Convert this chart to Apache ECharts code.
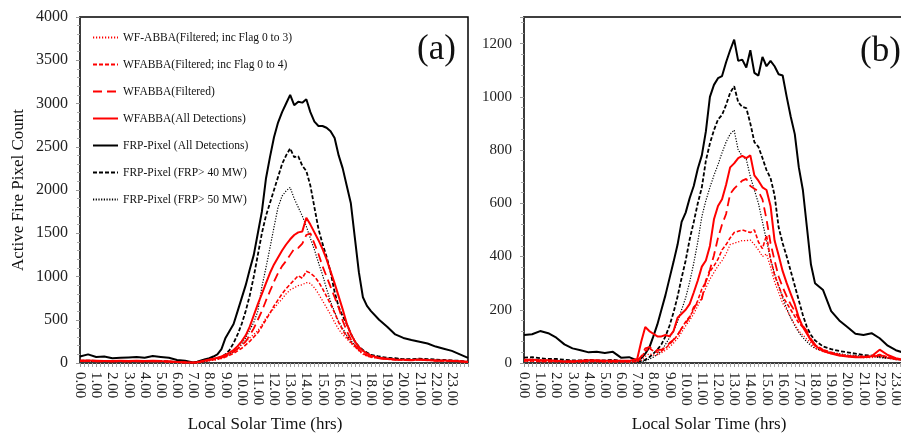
<!DOCTYPE html>
<html>
<head>
<meta charset="utf-8">
<script src="https://cdn.jsdelivr.net/npm/echarts@6/dist/echarts.min.js"></script>
<style>
  html, body { margin: 0; padding: 0; background: #fff; }
  #chart { width: 901px; height: 434px; }
</style>
</head>
<body>
<div id="chart"></div>
<script>
// local solar time (hrs): half-hourly at night, quarter-hourly through the day
var hours = [0, 0.5, 1, 1.5, 2, 2.5, 3, 3.5, 4, 4.5, 5, 5.5, 6, 6.5, 7,
    7.25, 7.5, 7.75, 8, 8.25, 8.5, 8.75, 9, 9.25, 9.5, 9.75, 10, 10.25, 10.5, 10.75, 11,
    11.25, 11.5, 11.75, 12, 12.25, 12.5, 12.75, 13, 13.25, 13.5, 13.75, 14, 14.25, 14.5, 14.75, 15,
    15.25, 15.5, 15.75, 16, 16.25, 16.5, 16.75, 17, 17.25, 17.5, 17.75, 18,
    18.5, 19, 19.5, 20, 20.5, 21, 21.5, 22, 22.5, 23, 23.5, 24];

var names = [
    'WF-ABBA(Filtered; inc Flag 0 to 3)',
    'WFABBA(Filtered; inc Flag 0 to 4)',
    'WFABBA(Filtered)',
    'WFABBA(All Detections)',
    'FRP-Pixel (All Detections)',
    'FRP-Pixel (FRP> 40 MW)',
    'FRP-Pixel (FRP> 50 MW)'
];

// panel (a)
var aWf03 = [28, 25, 22, 22, 20, 22, 20, 22, 20, 22, 20, 18, 10, 6, 4,
    8, 12, 18, 25, 32, 40, 52, 65, 100, 130, 165, 210, 245, 290, 330, 375,
    440, 520, 580, 630, 690, 740, 800, 845, 870, 895, 905, 930, 920, 870, 800, 720,
    640, 560, 470, 390, 330, 280, 230, 180, 140, 100, 80, 65,
    55, 45, 38, 35, 32, 38, 32, 28, 25, 22, 18, 12];
var aWf04 = [25, 22, 20, 20, 18, 20, 18, 20, 18, 20, 18, 15, 10, 6, 4,
    8, 14, 22, 30, 38, 45, 55, 70, 90, 110, 140, 170, 210, 250, 300, 350,
    420, 500, 575, 660, 730, 800, 860, 910, 960, 1010, 980, 1060, 1040, 1000, 940, 860,
    770, 680, 580, 470, 380, 300, 240, 195, 150, 110, 85, 70,
    55, 45, 38, 35, 32, 38, 32, 28, 25, 22, 18, 12];
var aWfFilt = [25, 22, 20, 20, 18, 20, 18, 20, 18, 20, 18, 15, 10, 6, 4,
    8, 15, 25, 35, 42, 50, 62, 80, 100, 130, 165, 200, 250, 320, 400, 500,
    600, 720, 830, 940, 1040, 1120, 1180, 1250, 1320, 1330, 1380, 1480, 1500, 1380, 1260, 1120,
    1000, 880, 760, 640, 490, 370, 275, 205, 155, 115, 88, 72,
    55, 45, 38, 35, 32, 38, 32, 28, 25, 22, 18, 12];
var aWfAll = [30, 28, 25, 22, 22, 25, 22, 25, 22, 25, 22, 20, 12, 8, 5,
    10, 20, 30, 40, 50, 60, 75, 95, 120, 150, 195, 250, 320, 420, 550, 680,
    800, 920, 1040, 1140, 1220, 1300, 1370, 1430, 1480, 1510, 1520, 1680, 1600, 1510, 1420, 1320,
    1200, 1060, 920, 770, 620, 455, 340, 250, 185, 140, 110, 85,
    60, 50, 40, 38, 35, 40, 35, 30, 28, 25, 20, 15];
var aFrpAll = [75, 100, 70, 75, 55, 60, 65, 70, 60, 80, 70, 60, 35, 25, 5,
    15, 30, 45, 55, 75, 100, 160, 290, 370, 450, 600, 750, 900, 1080, 1250, 1500,
    1750, 2130, 2380, 2610, 2780, 2900, 3000, 3100, 2980, 3020, 3010, 3050, 2900, 2790, 2740, 2740,
    2720, 2680, 2600, 2400, 2250, 2050, 1850, 1450, 1050, 760, 660, 600,
    500, 420, 330, 290, 265, 245, 225, 190, 165, 140, 100, 60];
var aFrp40 = [25, 28, 25, 22, 20, 22, 20, 22, 20, 25, 22, 18, 10, 8, 5,
    10, 15, 25, 35, 45, 55, 70, 100, 150, 230, 330, 450, 600, 780, 1000, 1250,
    1500, 1700, 1850, 2000, 2150, 2300, 2400, 2480, 2380, 2390, 2280, 2220, 2050, 1800, 1550, 1380,
    1230, 1050, 820, 650, 540, 450, 340, 250, 190, 150, 120, 95,
    75, 60, 55, 45, 45, 50, 45, 40, 35, 30, 25, 15];
var aFrp50 = [18, 20, 18, 15, 15, 18, 15, 18, 15, 20, 18, 12, 8, 5, 3,
    10, 15, 20, 30, 40, 50, 60, 80, 100, 130, 165, 220, 290, 380, 470, 600,
    880, 1100, 1330, 1570, 1800, 1930, 1990, 2030, 1900, 1800, 1700, 1580, 1440, 1310, 1160, 1020,
    860, 710, 590, 480, 400, 320, 260, 210, 180, 150, 115, 90,
    70, 55, 50, 45, 40, 45, 40, 35, 30, 25, 20, 15];

// panel (b)
var bWf03 = [6, 6, 5, 5, 5, 4, 4, 4, 5, 5, 4, 4, 4, 4, 5,
    10, 25, 35, 30, 30, 38, 48, 60, 75, 92, 115, 140, 160, 185, 215, 250,
    282, 315, 340, 365, 385, 410, 445, 450, 455, 460, 460, 462, 445, 425, 400, 410,
    360, 305, 265, 225, 200, 170, 145, 120, 105, 90, 75, 55,
    42, 35, 28, 24, 22, 20, 20, 25, 18, 12, 8, 5];
var bWf04 = [8, 8, 6, 6, 6, 5, 5, 5, 6, 6, 5, 5, 5, 5, 6,
    20, 45, 55, 45, 40, 45, 55, 70, 85, 105, 130, 155, 175, 200, 235, 278,
    305, 343, 365, 390, 425, 445, 470, 490, 495, 500, 495, 490, 500, 455, 430, 480,
    390, 330, 290, 250, 225, 200, 175, 150, 135, 115, 88, 68,
    50, 40, 32, 28, 25, 25, 25, 32, 22, 15, 10, 6];
var bWfFilt = [10, 10, 8, 8, 8, 6, 6, 6, 8, 8, 6, 6, 6, 6, 8,
    25, 55, 60, 50, 48, 50, 58, 75, 88, 105, 130, 150, 172, 210, 225, 240,
    310, 350, 405, 470, 520, 560, 635, 655, 670, 685, 692, 665, 655, 645, 615, 540,
    450, 385, 325, 285, 250, 220, 195, 165, 140, 120, 90, 70,
    48, 38, 30, 26, 24, 22, 22, 30, 22, 15, 10, 6];
var bWfAll = [12, 12, 10, 10, 8, 6, 6, 8, 10, 10, 8, 8, 8, 8, 15,
    80, 135, 120, 110, 100, 100, 105, 100, 120, 170, 185, 200, 222, 265, 310, 362,
    385, 440, 540, 590, 615, 670, 735, 750, 770, 778, 770, 780, 705, 685, 660, 650,
    590, 460, 405, 345, 300, 260, 220, 170, 135, 110, 85, 65,
    45, 36, 28, 24, 22, 22, 25, 50, 30, 18, 12, 8];
var bFrpAll = [105, 108, 120, 112, 95, 70, 55, 48, 40, 42, 38, 42, 20, 22, 10,
    18, 35, 58, 100, 145, 200, 255, 318, 380, 445, 530, 565, 620, 665, 730, 780,
    870, 1000, 1045, 1070, 1078, 1130, 1175, 1215, 1135, 1140, 1110, 1175, 1090, 1080, 1150, 1115,
    1135, 1115, 1085, 1080, 1000, 925, 860, 735, 650, 510, 370, 300,
    274, 195, 160, 135, 110, 105, 112, 93, 65, 48, 38, 30];
var bFrp40 = [20, 22, 18, 15, 15, 12, 10, 10, 12, 10, 10, 12, 8, 8, 5,
    8, 12, 22, 35, 50, 70, 100, 140, 190, 250, 320, 385, 465, 530, 600, 660,
    760, 825, 875, 915, 932, 970, 1015, 1040, 980, 962, 958, 900, 830, 812, 770, 725,
    695, 630, 510, 450, 400, 345, 290, 235, 180, 135, 105, 85,
    62, 52, 45, 40, 35, 30, 28, 24, 20, 15, 10, 8];
var bFrp50 = [12, 14, 12, 10, 10, 8, 8, 8, 8, 8, 8, 8, 6, 6, 4,
    5, 8, 15, 22, 32, 45, 70, 95, 120, 155, 200, 245, 305, 375, 455, 550,
    610, 660, 705, 745, 790, 830, 860, 875, 800, 778, 765, 700, 650, 600, 530, 460,
    390, 335, 290, 245, 205, 170, 140, 115, 95, 80, 65, 55,
    45, 40, 35, 30, 28, 25, 25, 20, 18, 15, 10, 8];

var panelA = [aWf03, aWf04, aWfFilt, aWfAll, aFrpAll, aFrp40, aFrp50];
var panelB = [bWf03, bWf04, bWfFilt, bWfAll, bFrpAll, bFrp40, bFrp50];

var lineStyles = [
    {color: '#ff0000', width: 1.3, type: [1.2, 1.8]},
    {color: '#ff0000', width: 1.6, type: [4, 2]},
    {color: '#ff0000', width: 1.8, type: [9, 5]},
    {color: '#ff0000', width: 2, type: 'solid'},
    {color: '#000000', width: 2, type: 'solid'},
    {color: '#000000', width: 1.8, type: [4, 2]},
    {color: '#000000', width: 1.2, type: [1.2, 1.5]}
];

var serif = 'Liberation Serif';

function pairs(vals) {
    return hours.map(function (t, i) {
        return [t, vals[i]];
    });
}

function buildSeries(list, idx) {
    return list.map(function (vals, k) {
        return {
            name: names[k],
            type: 'line',
            xAxisIndex: idx,
            yAxisIndex: idx,
            data: pairs(vals),
            showSymbol: false,
            symbol: 'none',
            lineStyle: lineStyles[k],
            itemStyle: {color: lineStyles[k].color},
            z: k >= 4 ? 2 : 3
        };
    });
}

function xAxis(idx) {
    return {
        type: 'value',
        gridIndex: idx,
        min: 0,
        max: 24,
        interval: 1,
        name: 'Local Solar Time (hrs)',
        nameLocation: 'middle',
        nameGap: 53,
        nameTextStyle: {fontFamily: serif, fontSize: 17, color: '#111', padding: [0, 18, 0, 0]},
        axisLine: {lineStyle: {color: '#3a3a3a', width: 2}},
        axisTick: {length: 4, lineStyle: {color: '#999'}},
        minorTick: {show: true, splitNumber: 4, length: 4, lineStyle: {color: '#aaa'}},
        splitLine: {show: false},
        axisLabel: {
            rotate: -90,
            margin: 9,
            fontFamily: serif,
            fontSize: 15,
            color: '#222',
            showMaxLabel: false,
            formatter: function (v) {
                return v.toFixed(2);
            }
        }
    };
}

function yAxis(idx, max, step, fs, name) {
    return {
        type: 'value',
        gridIndex: idx,
        min: 0,
        max: max,
        interval: step,
        name: name,
        nameLocation: 'middle',
        nameGap: 53,
        nameTextStyle: {fontFamily: serif, fontSize: 17, color: '#111'},
        axisLine: {show: true, lineStyle: {color: '#3a3a3a', width: 2}},
        axisTick: {show: true, length: 4, lineStyle: {color: '#999'}},
        minorTick: {show: true, splitNumber: 5, length: 3, lineStyle: {color: '#aaa'}},
        splitLine: {show: false},
        axisLabel: {
            margin: 12,
            fontFamily: serif,
            fontSize: fs,
            color: '#222',
            showMaxLabel: max % step === 0,
            formatter: function (v) {
                return String(v);
            }
        }
    };
}

var chart = echarts.init(document.getElementById('chart'));

var option = {
    animation: false,
    backgroundColor: '#fff',
    title: [
        {text: '(a)', left: 412, top: 27, textStyle: {fontFamily: serif, fontSize: 35, fontWeight: 'normal', color: '#111'}},
        {text: '(b)', left: 855, top: 29, textStyle: {fontFamily: serif, fontSize: 35, fontWeight: 'normal', color: '#111'}}
    ],
    legend: {
        data: names,
        orient: 'vertical',
        left: 92,
        top: 31,
        padding: 0,
        itemWidth: 25,
        itemHeight: 10,
        itemGap: 14,
        itemStyle: {opacity: 0},
        textStyle: {fontFamily: serif, fontSize: 11.5, color: '#111', lineHeight: 13}
    },
    grid: [
        {left: 80, top: 17, width: 388, height: 346, outerBoundsMode: 'none', show: true, borderColor: '#000', borderWidth: 1.5},
        {left: 524, top: 17, width: 388, height: 346, outerBoundsMode: 'none', show: true, borderColor: '#000', borderWidth: 1.5}
    ],
    xAxis: [xAxis(0), xAxis(1)],
    yAxis: [
        yAxis(0, 4000, 500, 16, 'Active Fire Pixel Count'),
        yAxis(1, 1300, 200, 15, '')
    ],
    series: buildSeries(panelA, 0).concat(buildSeries(panelB, 1))
};

chart.setOption(option);
</script>
</body>
</html>
